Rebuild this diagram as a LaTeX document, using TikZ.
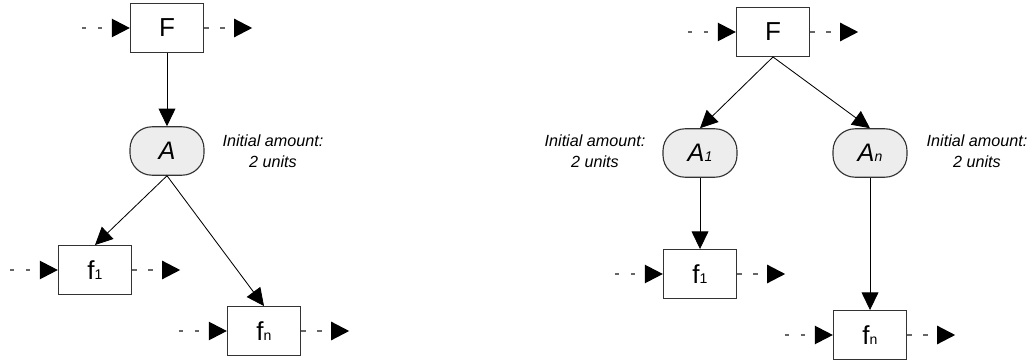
\documentclass[tikz,border=0pt]{standalone}
\usepackage{fontspec}
\setmainfont{Liberation Sans}
\usetikzlibrary{arrows.meta,positioning}
\tikzset{>={Triangle[length=4.4mm,width=4.2mm]}}
\newcommand{\idx}[1]{{\fontsize{10}{12}\selectfont #1}}

\begin{document}
\begin{tikzpicture}[x=0.25mm, y=-0.25mm,
    func/.style={draw=black!80, line width=0.8pt, minimum width=18.3mm,
        minimum height=12.2mm, inner sep=0pt, font=\fontsize{18.5}{20}\selectfont},
    res/.style={draw=black!80, fill=black!7, line width=0.8pt, rounded corners=5.5mm,
        minimum width=18.5mm, minimum height=12.1mm, inner sep=0pt,
        font=\fontsize{18}{20}\selectfont\itshape},
    note/.style={align=center, font=\fontsize{11.5}{15}\selectfont\itshape},
    flow/.style={-{Triangle[length=4.5mm,width=4.6mm,black]}, black!60,
        line width=0.8pt, dash pattern=on 1.1mm off 2.9mm},
    link/.style={->, line width=0.6pt}]
    \useasboundingbox (0,0) rectangle (1034,360);
    % one shared resource
    \node[func] (F) at (167,28) {F};
    \node[res] (A) at (167,151) {A};
    \node[note] (Anote) at (273,151) {Initial amount:\\2 units};
    \node[func] (f1) at (95,270) {f\idx{1}};
    \node[func] (fn) at (264,331) {f\idx{n}};
    \draw[link] (F) -- (A);
    \draw[link] (A.south) -- (f1.north);
    \draw[link] (A.south) -- (fn.north);
    % one resource per function
    \node[func] (G) at (773,32) {F};
    \node[res] (A1) at (700,153) {A\idx{1}};
    \node[res] (An) at (870,153) {A\idx{n}};
    \node[note] (A1note) at (595,151) {Initial amount:\\2 units};
    \node[note] (Annote) at (977,151) {Initial amount:\\2 units};
    \node[func] (g1) at (700,274) {f\idx{1}};
    \node[func] (gn) at (870,335) {f\idx{n}};
    \draw[link] (G.south) -- (A1.north);
    \draw[link] (G.south) -- (An.north);
    \draw[link] (A1) -- (g1);
    \draw[link] (An) -- (gn);
    % dashed in/out flows
    \foreach \b in {F,f1,fn,G,g1,gn} {
        \coordinate[left=12mm of \b] (\b-in);
        \coordinate[right=12mm of \b] (\b-out);
        \draw[flow] (\b-in) -- (\b);
        \draw[flow] (\b) -- (\b-out);
    }
\end{tikzpicture}
\end{document}
